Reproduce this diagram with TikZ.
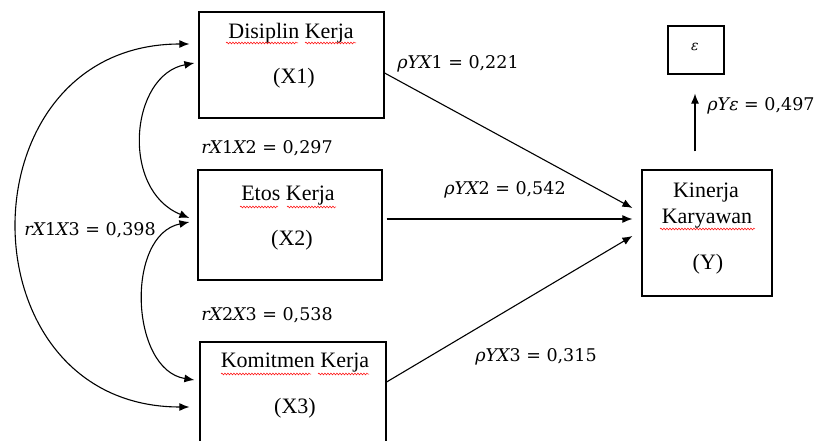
\documentclass[tikz,border=0pt]{standalone}
\usepackage{fontspec}
\setmainfont{Liberation Serif}
\newfontfamily\coeffont{DejaVu Serif}
\usetikzlibrary{arrows.meta,decorations.pathmorphing}
\newcommand{\vi}[1]{{\itshape #1}}
\begin{document}
\begin{tikzpicture}[x=1pt,y=-1pt,
  box/.style={draw,line width=1.2pt,rectangle,inner sep=0pt},
  lbl/.style={font=\fontsize{22}{26}\selectfont,inner sep=0pt},
  coef/.style={font=\coeffont\fontsize{17.5}{21}\selectfont,inner sep=0pt},
  arr/.style={line width=1.1pt,-{Latex[length=10pt,width=8pt]}},
  darr/.style={line width=1.1pt,{Latex[length=10pt,width=8pt]}-{Latex[length=10pt,width=8pt]}},
  squig/.style={red,line width=0.5pt,decorate,decoration={snake,amplitude=0.9pt,segment length=3pt}}]
\clip (0,0) rectangle (815,441);
% boxes
\node[box,minimum width=185pt,minimum height=106pt] (x1) at (291.5,65) {};
\node[box,minimum width=184pt,minimum height=110pt] (x2) at (290,225) {};
\node[box,minimum width=186pt,minimum height=110pt] (x3) at (293,397) {};
\node[box,minimum width=130pt,minimum height=126pt] (y) at (707,233) {};
\node[box,minimum width=56pt,minimum height=48pt] (e) at (696,50) {};
% box texts
\node[lbl] (t1a) at (291,33) {Disiplin Kerja};
\node[lbl] (t1b) at (294,78) {(X1)};
\node[lbl] (t2a) at (288,196) {Etos Kerja};
\node[lbl] (t2b) at (292,240) {(X2)};
\node[lbl] (t3a) at (295,363) {Komitmen Kerja};
\node[lbl] (t3b) at (295,408) {(X3)};
\node[lbl] (ta) at (706,193) {Kinerja};
\node[lbl] (tb) at (707,219) {Karyawan};
\node[lbl] (tc) at (708,264) {(Y)};
\node[coef,font=\coeffont\itshape\fontsize{14}{16}\selectfont] (eps) at (695,47) {ε};
% squiggles
\draw[squig] (226,43) -- (298,43);
\draw[squig] (305,43) -- (356,43);
\draw[squig] (240,207) -- (278,207);
\draw[squig] (287,207) -- (336,207);
\draw[squig] (221,374) -- (311,374);
\draw[squig] (318,374) -- (369,374);
\draw[squig] (660,229) -- (755,229);
% paths to Y
\draw[arr] ([yshift=-8pt]x1.east) -- ([xshift=-9pt,yshift=25pt]y.west);
\draw[arr] ([xshift=4pt,yshift=6pt]x2.east) -- ([xshift=-9pt,yshift=14pt]y.west);
\draw[arr] ([yshift=15pt]x3.east) -- ([xshift=-9pt,yshift=-3pt]y.west);
\draw[arr] ([xshift=-12pt,yshift=18pt]y.north) -- ([xshift=-1pt,yshift=-19pt]e.south);
% correlations
\draw[darr] ([xshift=-4pt,yshift=2pt]x1.west) .. controls (130,75) and (120,190) .. ([xshift=-8pt,yshift=7pt]x2.west);
\draw[darr] ([xshift=-8pt,yshift=3pt]x2.west) .. controls (125,235) and (130,370) .. ([xshift=-5pt,yshift=17pt]x3.west);
\draw[darr] ([xshift=-9pt,yshift=21pt]x1.west) .. controls (-40,44) and (-40,407) .. ([xshift=-10pt,yshift=-10pt]x3.west);
% labels
\node[coef] (l12) at (267,148) {\vi{rX}1\vi{X}2 = 0,297};
\node[coef] (l23) at (267,315) {\vi{rX}2\vi{X}3 = 0,538};
\node[coef] (l13) at (90,230) {\vi{rX}1\vi{X}3 = 0,398};
\node[coef] (p1) at (458,64) {\vi{ρYX}1 = 0,221};
\node[coef] (p2) at (505,190) {\vi{ρYX}2 = 0,542};
\node[coef] (p3) at (536,357) {\vi{ρYX}3 = 0,315};
\node[coef] (pe) at (761,106) {\vi{ρYε} = 0,497};
\end{tikzpicture}
\end{document}
